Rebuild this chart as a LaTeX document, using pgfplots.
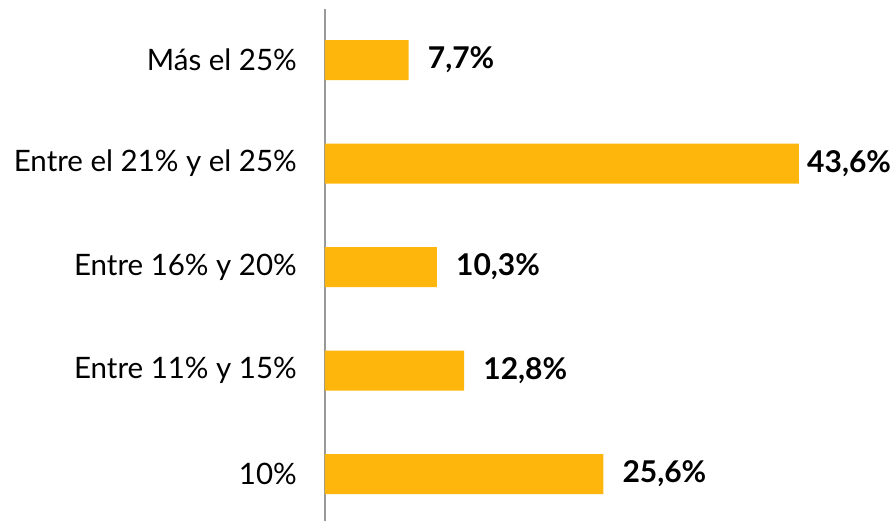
\documentclass[border=0pt]{standalone}
\usepackage{pgfplots}
\pgfplotsset{compat=1.18}
\usepackage{fontspec}
\setmainfont{Lato}
\definecolor{bargold}{RGB}{254,182,12}
\begin{document}
\begin{tikzpicture}
\useasboundingbox (-325pt,0pt) rectangle (570pt,521pt);
\begin{axis}[
  at={(0,0)}, anchor=south west,
  scale only axis,
  width=570pt, height=512pt,
  xmin=0, xmax=52.43,
  ymin=-0.454, ymax=4.493,
  xbar, bar width=40pt,
  axis x line=none,
  axis y line*=left,
  y axis line style={draw=gray!80, line width=1.2pt, -},
  ytick={0,1,2,3,4},
  yticklabels={10\%, Entre 11\% y 15\%, Entre 16\% y 20\%, Entre el 21\% y el 25\%, Más el 25\%},
  major tick length=0pt,
  yticklabel style={font=\fontsize{29.5}{33}\selectfont, inner sep=0pt, xshift=-28pt},
  point meta=explicit symbolic,
  nodes near coords,
  nodes near coords style={font=\fontsize{30}{34}\selectfont\bfseries, anchor=west, inner sep=0pt, xshift=19pt},
  clip=false,
]
\addplot[fill=bargold, draw=none] coordinates {
  (25.6,0) [25,6\%]
  (12.8,1) [12,8\%]
  (10.3,2) [10,3\%]
  (43.6,3) [\hspace*{-11pt}43,6\%]
  (7.7,4)  [7,7\%]
};
\end{axis}
\end{tikzpicture}
\end{document}
